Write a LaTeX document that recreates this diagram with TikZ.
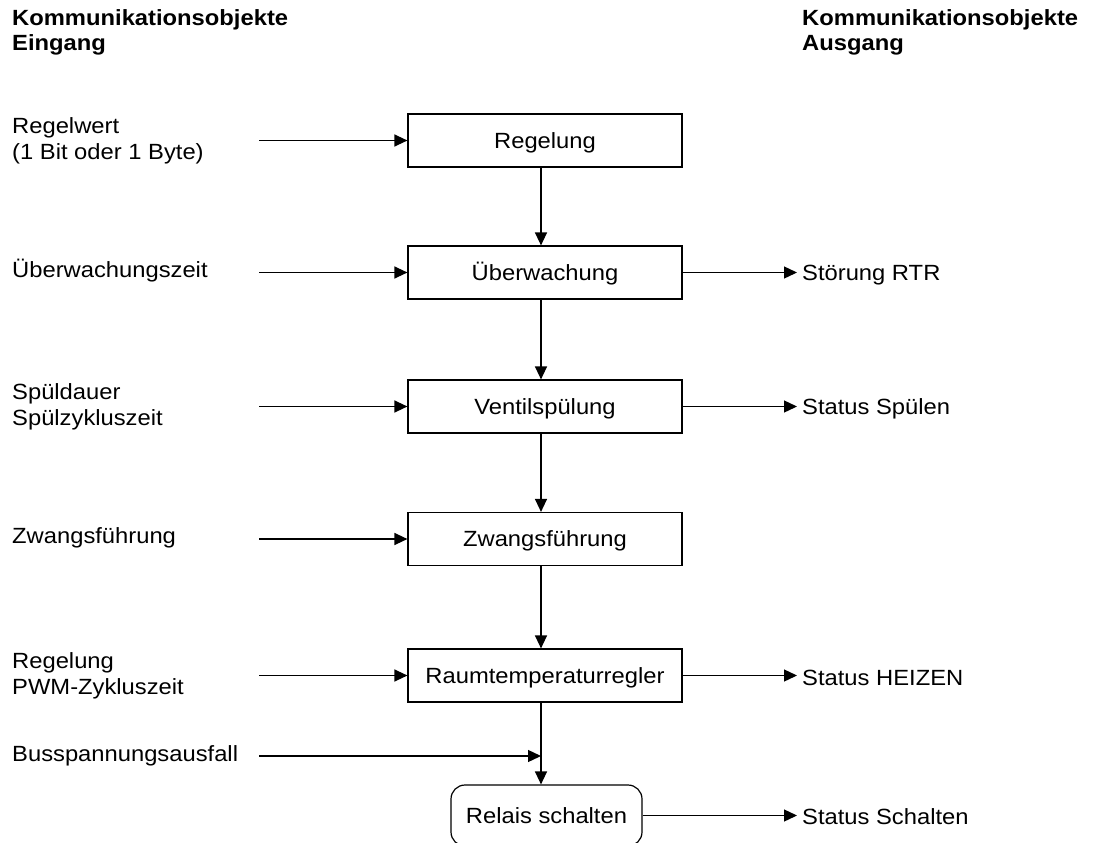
\documentclass[tikz,border=0pt]{standalone}
\usepackage{fontspec}
\setmainfont{Liberation Sans}[FakeStretch=1.08]
\usetikzlibrary{arrows.meta}
\begin{document}
\begin{tikzpicture}[x=1pt,y=-1pt,
  every node/.style={font=\fontsize{22}{26}\selectfont, inner sep=0pt},
  blk/.style={draw, line width=1.2pt, minimum width=274pt, minimum height=53pt, text height=15.75pt, text depth=0pt},
  rblk/.style={draw, line width=1.2pt, rounded corners=14pt, minimum width=191pt, minimum height=61pt, text height=15.75pt, text depth=0pt},
  arr/.style={line width=1.3pt, -{Triangle[length=13pt,width=12pt]}},
  lbl/.style={anchor=base west},
  hd/.style={anchor=base west, font=\fontsize{22}{25}\selectfont\bfseries}]
\useasboundingbox (0,0) rectangle (1103,843);

% headings
\node[hd] (hin) at (12,25.7) {\begin{tabular}[t]{@{}l@{}}Kommunikationsobjekte\\Eingang\end{tabular}};
\node[hd] (hout) at (802,25.7) {\begin{tabular}[t]{@{}l@{}}Kommunikationsobjekte\\Ausgang\end{tabular}};

% blocks
\node[blk] (regelung) at (545,140.5) {Regelung};
\node[blk] (ueberw) at (545,272.5) {Überwachung};
\node[blk] (spuel) at (545,406.5) {Ventilspülung};
\node[blk] (zwang) at (545,539) {Zwangsführung};
\node[blk] (rtr) at (545,675.5) {Raumtemperaturregler};
\node[rblk] (relais) at (546.5,815.5) {Relais schalten};

% helper coordinates
\coordinate (col) at (541,0);
\coordinate (inx) at (259,0);
\coordinate (outx) at (797,0);
\coordinate (bus) at (541,756);

% input labels
\node[lbl] (i1) at (12,133.5) {\begin{tabular}[t]{@{}l@{}}Regelwert\\(1 Bit oder 1 Byte)\end{tabular}};
\node[lbl] (i2) at (12,277.5) {Überwachungszeit};
\node[lbl] (i3) at (12,399.5) {\begin{tabular}[t]{@{}l@{}}Spüldauer\\Spülzykluszeit\end{tabular}};
\node[lbl] (i4) at (12,543) {Zwangsführung};
\node[lbl] (i5) at (12,668.5) {\begin{tabular}[t]{@{}l@{}}Regelung\\PWM-Zykluszeit\end{tabular}};
\node[lbl] (i6) at (12,761) {Busspannungsausfall};

% output labels
\node[lbl] (o1) at (802,280.5) {Störung RTR};
\node[lbl] (o2) at (802,414.5) {Status Spülen};
\node[lbl] (o3) at (802,685) {Status HEIZEN};
\node[lbl] (o4) at (802,824) {Status Schalten};

% vertical flow
\draw[arr] (regelung.south -| col) -- (ueberw.north -| col);
\draw[arr] (ueberw.south -| col) -- (spuel.north -| col);
\draw[arr] (spuel.south -| col) -- (zwang.north -| col);
\draw[arr] (zwang.south -| col) -- (rtr.north -| col);
\draw[arr] (rtr.south -| col) -- (relais.north -| col);

% inputs
\draw[arr] (regelung.west -| inx) -- (regelung.west);
\draw[arr] (ueberw.west -| inx) -- (ueberw.west);
\draw[arr] (spuel.west -| inx) -- (spuel.west);
\draw[arr] (zwang.west -| inx) -- (zwang.west);
\draw[arr] (rtr.west -| inx) -- (rtr.west);
\draw[arr] (bus -| inx) -- (bus);

% outputs
\draw[arr] (ueberw.east) -- (ueberw.east -| outx);
\draw[arr] (spuel.east) -- (spuel.east -| outx);
\draw[arr] (rtr.east) -- (rtr.east -| outx);
\draw[arr] (relais.east) -- (relais.east -| outx);
\end{tikzpicture}
\end{document}
